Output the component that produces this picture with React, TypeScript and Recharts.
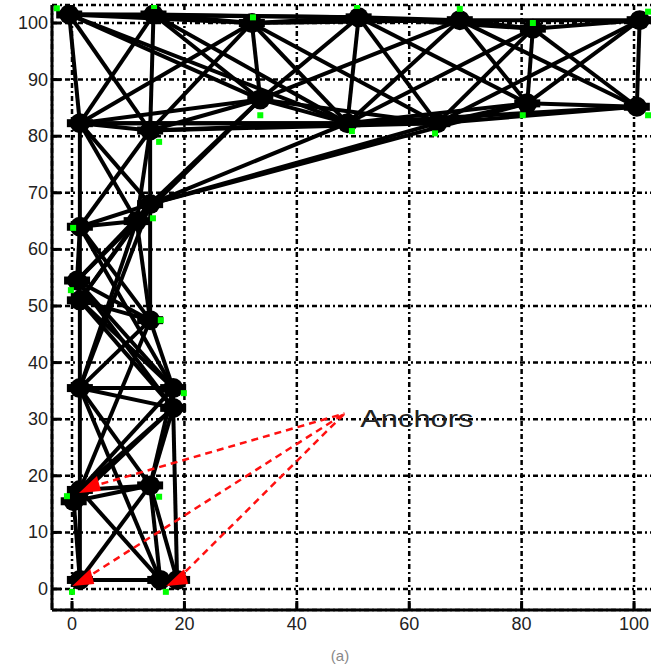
import React from 'react';
import {
  ScatterChart, Scatter, XAxis, YAxis, CartesianGrid,
  ReferenceLine, ReferenceDot,
} from 'recharts';

// ── Axes ───────────────────────────────────────────────────
const X_TICKS = [0, 20, 40, 60, 80, 100];
const Y_TICKS = [0, 10, 20, 30, 40, 50, 60, 70, 80, 90, 100];

// ── Estimated node positions (black) ───────────────────────
const NODE_NAMES = [
  'A', 'B', 'C', 'D', 'E', 'F', 'G',
  'H', 'I', 'J', 'K', 'L',
  'M', 'N', 'O', 'Q', 'P', 'R', 'S',
  'T', 'U', 'V', 'W', 'X', 'Y', 'Z', 'AA', 'AB', 'AC',
];
const NODE_X = [
  -0.5, 14.5, 32, 51, 69, 82, 101,
  33.5, 49, 65, 81, 100.5,
  1.4, 13.9, 13.9, 11.5, 1.4, 0.9, 1.4,
  13.9, 1.4, 18, 18, 1.4, 13.9, 0.3, 1.4, 15.7, 18.7,
];
const NODE_Y = [
  101.5, 101.5, 100, 101, 100.5, 99, 100.5,
  86.5, 82.3, 82.3, 85.8, 85.2,
  82.3, 81, 68, 65, 64, 54.5, 51,
  47.5, 35.5, 35.5, 32, 17.5, 18.3, 15.5, 1.6, 1.6, 1.6,
];

// ── Links between nodes ────────────────────────────────────
const EDGES: [string, string][] = [
  // top band
  ['A', 'B'], ['B', 'C'], ['C', 'D'], ['D', 'E'], ['E', 'F'], ['F', 'G'],
  ['A', 'C'], ['B', 'D'], ['C', 'E'], ['E', 'G'], ['D', 'F'], ['A', 'D'],
  ['M', 'N'], ['N', 'H'], ['H', 'I'], ['I', 'J'], ['J', 'K'], ['K', 'L'],
  ['M', 'I'], ['N', 'I'], ['I', 'L'], ['J', 'L'], ['M', 'H'], ['M', 'J'], ['N', 'J'],
  ['H', 'J'], ['I', 'K'],
  ['A', 'M'], ['B', 'N'], ['C', 'H'], ['D', 'I'], ['F', 'K'], ['G', 'L'],
  ['A', 'N'], ['B', 'M'], ['A', 'H'], ['B', 'H'], ['C', 'N'], ['C', 'I'],
  ['C', 'J'], ['D', 'H'], ['D', 'J'], ['D', 'K'], ['E', 'I'], ['E', 'K'],
  ['F', 'J'], ['F', 'L'], ['G', 'K'], ['A', 'I'], ['B', 'I'], ['E', 'H'],
  ['F', 'I'], ['E', 'L'], ['G', 'J'], ['C', 'M'],
  // fan from O
  ['O', 'H'], ['O', 'I'], ['O', 'J'], ['O', 'M'], ['N', 'P'], ['N', 'Q'], ['M', 'Q'],
  ['Q', 'H'], ['O', 'K'],
  // left column
  ['M', 'P'], ['P', 'R'], ['R', 'S'], ['S', 'U'], ['U', 'X'], ['X', 'Z'], ['Z', 'AA'], ['X', 'AA'],
  ['N', 'O'], ['O', 'Q'], ['Q', 'T'], ['O', 'T'], ['T', 'V'], ['V', 'W'], ['W', 'Y'], ['Y', 'AB'],
  ['P', 'O'], ['P', 'Q'], ['O', 'R'], ['Q', 'R'], ['P', 'T'], ['R', 'T'], ['S', 'T'],
  ['O', 'S'], ['T', 'U'], ['S', 'V'], ['R', 'V'], ['U', 'V'], ['U', 'W'], ['Q', 'U'],
  ['P', 'V'], ['R', 'W'], ['Q', 'S'], ['P', 'S'], ['S', 'W'], ['T', 'X'], ['O', 'U'],
  ['U', 'Y'], ['W', 'X'], ['V', 'X'], ['X', 'Y'], ['Z', 'Y'], ['X', 'AB'], ['Y', 'AA'],
  ['AA', 'AB'], ['W', 'AC'], ['Y', 'AC'], ['AB', 'AC'], ['U', 'AB'], ['V', 'Y'], ['Z', 'W'],
];

// ── True positions (green) ─────────────────────────────────
const TRUE_X = [
  -2.7, 14.6, 32.2, 50.7, 69, 82, 102.5,
  33.5, 49.8, 64.6, 80.2, 102.5,
  15.5, 14.4, 0.2, -0.2, 15.8, 19.9, -0.9, 15.5, 0, 16.7,
];
const TRUE_Y = [
  102.6, 103, 101, 103, 102.5, 100, 102,
  83.7, 80.9, 80.5, 83.7, 83.7,
  79, 65.5, 63.8, 52.8, 47.5, 34.6, 16.4, 16.3, -0.5, -0.5,
];

// ── Anchors (red) ──────────────────────────────────────────
const ANCHOR_X = [3.2, 2, 18.7];
const ANCHOR_Y = [18, 1.6, 1.6];
const CALLOUT = { x: 48.5, y: 31 };

const nodes = NODE_NAMES.map((n, i) => ({ name: n, x: NODE_X[i], y: NODE_Y[i] }));
const byName: Record<string, { x: number; y: number }> = {};
nodes.forEach(n => { byName[n.name] = n; });
const trueData = TRUE_X.map((x, i) => ({ x, y: TRUE_Y[i] }));
const anchorData = ANCHOR_X.map((x, i) => ({ x, y: ANCHOR_Y[i] }));

const FONT = '"Liberation Sans", Arial, sans-serif';

const XTick = ({ x, y, payload }: any) => (
  <g>
    <line x1={x} y1={y} x2={x} y2={y - 9} stroke="#000" strokeWidth={3} />
    <text x={x} y={y + 20} textAnchor="middle" fontSize={18} fontFamily={FONT} fill="#222">
      {payload.value}
    </text>
  </g>
);

const YTick = ({ x, y, payload }: any) => (
  <g>
    <line x1={x} y1={y} x2={x + 9} y2={y} stroke="#000" strokeWidth={3} />
    <text x={x - 4} y={y + 6} textAnchor="end" fontSize={18} fontFamily={FONT} fill="#222">
      {payload.value}
    </text>
  </g>
);

// black blob: filled disc with a bar, like the overplotted markers
const Blob = (p: any) => (
  <g>
    <circle cx={p.cx} cy={p.cy} r={10} fill="#000" />
    <rect x={p.cx - 13} y={p.cy - 4} width={26} height={8} fill="#000" />
  </g>
);

export default function App() {
  return (
    <div style={{ width: 651, height: 665, overflow: 'hidden', background: '#fff' }}>
      <style>{'body{margin:0}'}</style>
      <ScatterChart width={655} height={665} margin={{ top: 5, right: 0, left: 0, bottom: 0 }}>
        <CartesianGrid stroke="#000" strokeWidth={2.5} strokeDasharray="5 3 2 3" />
        <XAxis
          type="number" dataKey="x" domain={[-3.56, 103.73]} ticks={X_TICKS}
          allowDataOverflow height={55} tickSize={0} tickMargin={0} tickLine={false}
          axisLine={{ stroke: '#000', strokeWidth: 3 }} tick={<XTick />}
          label={{
            content: () => (
              <text x={340} y={661} textAnchor="middle" fontSize={15} fontFamily={FONT} fill="#888">(a)</text>
            ),
          }}
        />
        <YAxis
          type="number" dataKey="y" domain={[-3.71, 103.18]} ticks={Y_TICKS}
          allowDataOverflow width={52} tickSize={0} tickMargin={0} tickLine={false}
          axisLine={{ stroke: '#000', strokeWidth: 3 }} tick={<YTick />}
        />
        {EDGES.map(([a, b], i) => (
          <ReferenceLine
            key={'e' + i}
            segment={[{ x: byName[a].x, y: byName[a].y }, { x: byName[b].x, y: byName[b].y }]}
            stroke="#000" strokeWidth={4} ifOverflow="visible"
          />
        ))}
        {anchorData.map((p, i) => (
          <ReferenceLine
            key={'a' + i}
            segment={[{ x: p.x, y: p.y }, CALLOUT]}
            stroke="#ff1010" strokeWidth={2.5} strokeDasharray="7 5" ifOverflow="visible"
          />
        ))}
        <Scatter data={nodes} isAnimationActive={false} shape={Blob} />
        <Scatter
          data={anchorData} isAnimationActive={false}
          shape={(p: any) => (
            <polygon
              points={`${p.cx - 11},${p.cy + 6} ${p.cx + 11},${p.cy + 4} ${p.cx + 7},${p.cy - 11}`}
              fill="#ff0000"
            />
          )}
        />
        <Scatter
          data={trueData} isAnimationActive={false}
          shape={(p: any) => <rect x={p.cx - 3} y={p.cy - 3} width={6} height={6} fill="#00ff00" />}
        />
        <ReferenceDot
          x={CALLOUT.x + 2.8} y={CALLOUT.y - 1} r={0} ifOverflow="visible"
          shape={(p: any) => (
            <text x={p.cx} y={p.cy + 8} fontSize={24} fontFamily={FONT} fill="#222"
              textLength={113} lengthAdjust="spacingAndGlyphs">
              Anchors
            </text>
          )}
        />
      </ScatterChart>
    </div>
  );
}
